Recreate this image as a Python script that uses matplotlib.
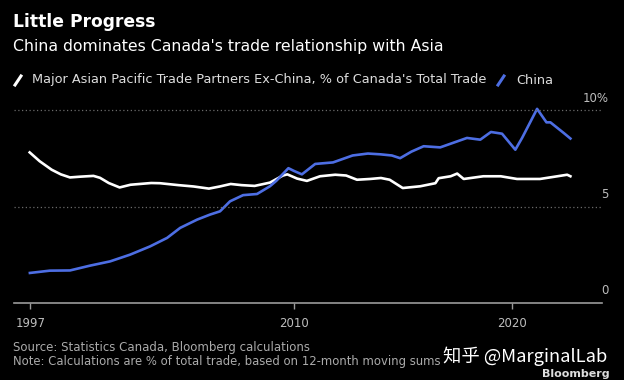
import matplotlib
matplotlib.use("Agg")
import matplotlib.pyplot as plt
from matplotlib.lines import Line2D

# Major Asian Pacific partners ex-China, % of Canada's total trade
asia_years = [1997.87, 1998.33, 1998.88, 1999.3, 1999.72, 2000.2, 2000.8, 2001.1,
              2001.5, 2002.0, 2002.5, 2003.45, 2003.85, 2004.7, 2005.4, 2006.1,
              2006.6, 2007.1, 2007.6, 2008.2, 2008.9, 2009.5, 2009.7, 2010.15,
              2010.6, 2011.2, 2011.9, 2012.4, 2012.9, 2013.5, 2014.0, 2014.4,
              2015.0, 2015.8, 2016.5, 2016.65, 2017.2, 2017.5, 2017.8, 2018.7,
              2019.5, 2020.25, 2021.3, 2022.1, 2022.55, 2022.7]
asia_share = [7.82, 7.36, 6.92, 6.68, 6.52, 6.56, 6.60, 6.50,
              6.23, 6.00, 6.14, 6.23, 6.22, 6.12, 6.05, 5.94,
              6.05, 6.18, 6.12, 6.08, 6.25, 6.62, 6.68, 6.46,
              6.34, 6.58, 6.66, 6.62, 6.40, 6.44, 6.49, 6.40,
              5.97, 6.06, 6.22, 6.48, 6.58, 6.72, 6.44, 6.58,
              6.58, 6.44, 6.44, 6.58, 6.66, 6.58]

# China, % of Canada's total trade
china_years = [1997.88, 1998.8, 1999.72, 2000.64, 2001.56, 2002.48, 2003.4, 2004.18,
               2004.78, 2005.56, 2006.15, 2006.61, 2007.07, 2007.67, 2008.31, 2008.9,
               2009.2, 2009.75, 2010.0, 2010.37, 2010.98, 2011.8, 2012.7, 2013.4,
               2013.97, 2014.5, 2014.88, 2015.4, 2015.96, 2016.72, 2017.95, 2018.56,
               2019.05, 2019.56, 2020.17, 2020.48, 2021.17, 2021.6, 2021.78, 2022.39,
               2022.7]
china_share = [1.56, 1.68, 1.69, 1.94, 2.16, 2.51, 2.94, 3.38,
               3.90, 4.33, 4.59, 4.76, 5.28, 5.60, 5.66, 6.06,
               6.35, 7.00, 6.86, 6.68, 7.22, 7.30, 7.66, 7.76,
               7.72, 7.66, 7.52, 7.86, 8.14, 8.08, 8.57, 8.48,
               8.88, 8.79, 7.96, 8.57, 10.08, 9.38, 9.38, 8.83,
               8.54]

x_ticks = [1997.9, 2010, 2020]
x_labels = ["1997", "2010", "2020"]
y_ticks = [0, 5, 10]
y_labels = ["0", "5", "10%"]

BG = "black"
BLUE = "#4d6ee3"
GREY = "#bdbdbd"

plt.rcParams["font.family"] = ["DejaVu Sans"]

fig = plt.figure(figsize=(6.24, 3.80), dpi=100, facecolor=BG)
ax = fig.add_axes([14 / 624, 1 - 303 / 380, (602 - 14) / 624, 208 / 380])
ax.set_facecolor(BG)

ax.plot(asia_years, asia_share, color="white", lw=1.9, solid_joinstyle="round")
ax.plot(china_years, china_share, color=BLUE, lw=1.9, solid_joinstyle="round")

ax.set_xlim(1997.15, 2024.15)
ax.set_ylim(0, 10.8)

for s in ["top", "right", "left"]:
    ax.spines[s].set_visible(False)
ax.spines["bottom"].set_color("#9a9a9a")
ax.spines["bottom"].set_linewidth(1.2)

ax.set_xticks(x_ticks)
ax.set_xticklabels(x_labels, fontsize=8.5, color=GREY)
ax.tick_params(axis="x", length=4, width=1, color="#9a9a9a", pad=6)
ax.set_yticks([])

for v, lab in zip(y_ticks, y_labels):
    if v > 0:
        ax.axhline(v, color="#6a6a6a", lw=0.9, ls=(0, (1, 2)))
    ax.annotate(lab, xy=(1, v), xycoords=("axes fraction", "data"),
                xytext=(5, 4), textcoords="offset points",
                ha="right", va="bottom", fontsize=8.5, color=GREY)

# titles
fig.text(13 / 624, 1 - 22 / 380, "Little Progress", fontsize=12.3,
         fontweight="bold", color="white", va="center")
fig.text(13 / 624, 1 - 47 / 380, "China dominates Canada's trade relationship with Asia",
         fontsize=11.3, color="white", va="center")

# legend
fig.add_artist(Line2D([15 / 624, 21 / 624], [1 - 85 / 380, 1 - 76 / 380],
                      color="white", lw=2.2))
fig.text(32 / 624, 1 - 80 / 380,
         "Major Asian Pacific Trade Partners Ex-China, % of Canada's Total Trade",
         fontsize=9.3, color="#dddddd", va="center")
fig.add_artist(Line2D([498 / 624, 504 / 624], [1 - 85 / 380, 1 - 76 / 380],
                      color=BLUE, lw=2.2))
fig.text(516 / 624, 1 - 80 / 380, "China", fontsize=9.3, color="#dddddd", va="center")

# footer
fig.text(13 / 624, 1 - 347 / 380, "Source: Statistics Canada, Bloomberg calculations",
         fontsize=8.45, color="#aaaaaa", va="center")
fig.text(13 / 624, 1 - 362 / 380,
         "Note: Calculations are % of total trade, based on 12-month moving sums",
         fontsize=8.4, color="#aaaaaa", va="center")
fig.text(610 / 624, 1 - 374 / 380, "Bloomberg", fontsize=8, fontweight="bold",
         color="#dddddd", ha="right", va="center")
fig.text(607 / 624, 1 - 356 / 380, "知乎 @MarginalLab", fontsize=13.2,
         color="white", ha="right", va="center",
         family=["Noto Sans CJK SC", "DejaVu Sans"])

fig.savefig("out.png", dpi=100, facecolor=BG)
